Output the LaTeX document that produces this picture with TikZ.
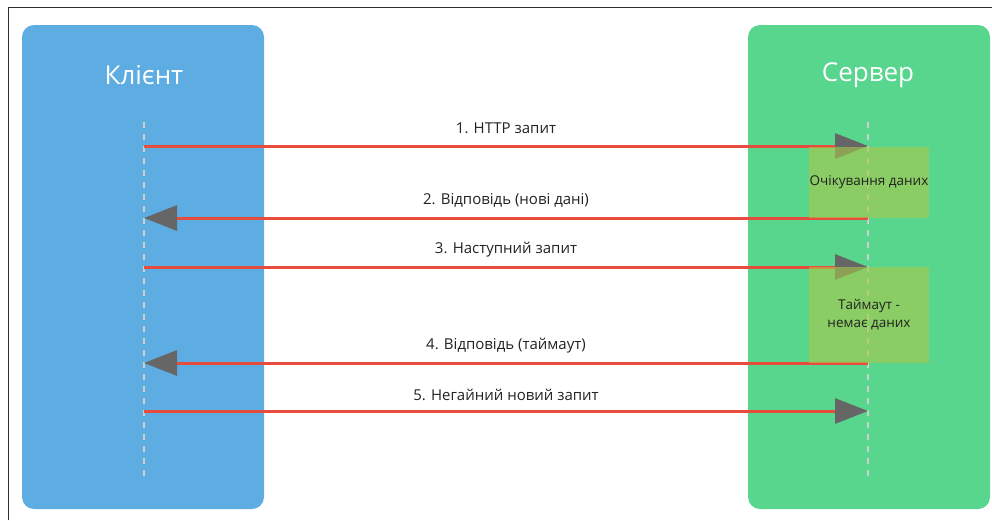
\documentclass[tikz,border=0pt]{standalone}
\usepackage{fontspec}
\setmainfont{Open Sans}
\usetikzlibrary{arrows.meta}
\definecolor{clientblue}{HTML}{5DADE2}
\definecolor{servergreen}{HTML}{58D68D}
\definecolor{msgred}{HTML}{E74C3C}
\definecolor{tipgray}{HTML}{666666}
\definecolor{waitgreen}{HTML}{AAC84A}
\definecolor{lifegray}{HTML}{CFCFCF}
\definecolor{labeltext}{HTML}{222222}
\definecolor{framegray}{HTML}{2E2E2E}

\begin{document}
\begin{tikzpicture}[x=1pt,y=-1pt,
  lane/.style={rounded corners=12pt, draw=none, inner sep=0pt, outer sep=0pt,
    minimum width=242pt, minimum height=484pt, anchor=north west},
  lanetitle/.style={text=white, font=\fontsize{26}{30}\selectfont, inner sep=0pt},
  lifeline/.style={lifegray, line width=2pt, dash pattern=on 6pt off 6pt},
  msg/.style={msgred, line width=3pt,
    -{Triangle[length=33pt,width=25pt,color=tipgray]}},
  msglabel/.style={text=labeltext, font=\fontsize{15}{18}\selectfont, inner sep=0pt},
  waitbox/.style={fill=waitgreen, fill opacity=0.6, text opacity=1,
    minimum width=120pt, anchor=north west, align=center, inner sep=0pt,
    outer sep=0pt, text=labeltext, font=\fontsize{13.5}{18}\selectfont}
]
\useasboundingbox (0,0) rectangle (992,520);

% outer frame
\draw[framegray, line width=1.5pt] (8.5,520) -- (8.5,7.5) -- (992,7.5);

% participant lanes
\node[lane, fill=clientblue] (client) at (22,25) {};
\node[lane, fill=servergreen] (server) at (748,25) {};
\node[lanetitle] (clienttitle) at (144,75) {Клієнт};
\node[lanetitle] (servertitle) at (868,75) {Сервер};

% lifelines
\coordinate (ctop) at (144,122);
\coordinate (cbot) at (144,478);
\coordinate (stop) at (868,122);
\coordinate (sbot) at (868,478);
\draw[lifeline] (ctop) -- (cbot);
\draw[lifeline] (stop) -- (sbot);

% message end points
\coordinate (c1) at (144,146); \coordinate (s1) at (868,146);
\coordinate (c2) at (144,218); \coordinate (s2) at (868,218);
\coordinate (c3) at (144,267); \coordinate (s3) at (868,267);
\coordinate (c4) at (144,363); \coordinate (s4) at (868,363);
\coordinate (c5) at (144,411); \coordinate (s5) at (868,411);

% messages
\draw[msg] (c1) -- (s1);
\draw[msg] (s2) -- (c2);
\draw[msg] (c3) -- (s3);
\draw[msg] (s4) -- (c4);
\draw[msg] (c5) -- (s5);

% server waiting periods
\node[waitbox, minimum height=71pt] (wait1) at (809,147) {Очікування даних};
\node[waitbox, minimum height=96pt] (wait2) at (809,267) {Таймаут -\\немає даних};

% message labels
\node[msglabel] (l1) at (506,128) {1. HTTP запит};
\node[msglabel] (l2) at (506,200) {2. Відповідь (нові дані)};
\node[msglabel] (l3) at (506,250) {3. Наступний запит};
\node[msglabel] (l4) at (506,346) {4. Відповідь (таймаут)};
\node[msglabel] (l5) at (506,395) {5. Негайний новий запит};
\end{tikzpicture}
\end{document}
